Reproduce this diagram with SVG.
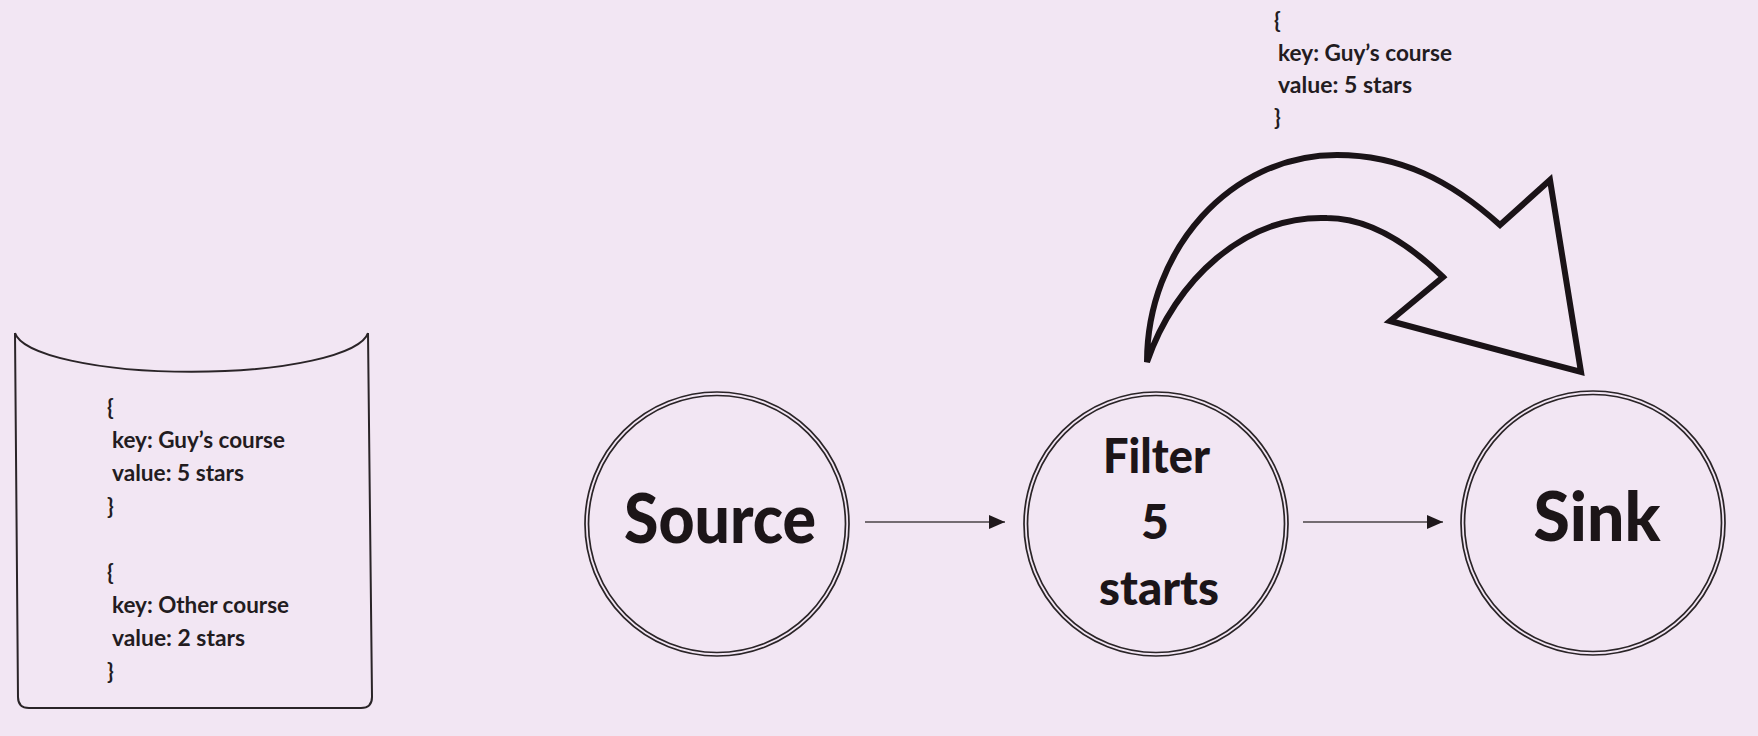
<svg xmlns="http://www.w3.org/2000/svg" width="1758" height="736" viewBox="0 0 1758 736">
  <defs>
    <style>
      .bg { fill: #f2e6f3; }
      .ring { fill: none; stroke: #2a2427; stroke-width: 1.7; }
      .big { font-family: Lato, "Open Sans", "Liberation Sans", sans-serif; font-weight: 900; fill: #1c1518; text-anchor: middle; }
      .rec { font-family: Lato, "Open Sans", "Liberation Sans", sans-serif; font-weight: 700; font-size: 22px; fill: #231c1f; }
      .conn { fill: none; stroke: #4a4346; stroke-width: 1.5; }
      .cyl { fill: none; stroke: #2a2427; stroke-width: 2; }
      .bigarrow { fill: none; stroke: #1a1317; stroke-width: 6; stroke-linejoin: miter; stroke-miterlimit: 4; }
    </style>
    <marker id="ah" markerWidth="16" markerHeight="14" refX="16" refY="7" orient="auto" markerUnits="userSpaceOnUse">
      <path d="M0,0 L16,7 L0,14 Z" fill="#1f181b"/>
    </marker>
  </defs>
  <rect class="bg" x="0" y="0" width="1758" height="736"/>

  <g id="store">
    <path class="cyl" d="M15,333 L18,697 Q18,708 29,708 L361,708 Q372,708 372,697 L368,333"/>
    <path class="cyl" d="M15,333 A177,42 0 0 0 368,333"/>
    <text class="rec" x="107" y="415">{</text>
    <text class="rec" x="112" y="448" textLength="173" lengthAdjust="spacingAndGlyphs">key: Guy’s course</text>
    <text class="rec" x="112" y="481" textLength="132" lengthAdjust="spacingAndGlyphs">value: 5 stars</text>
    <text class="rec" x="107" y="514">}</text>
    <text class="rec" x="107" y="580">{</text>
    <text class="rec" x="112" y="613" textLength="177" lengthAdjust="spacingAndGlyphs">key: Other course</text>
    <text class="rec" x="112" y="646" textLength="133" lengthAdjust="spacingAndGlyphs">value: 2 stars</text>
    <text class="rec" x="107" y="679">}</text>
  </g>

  <g id="source">
    <circle class="ring" cx="717" cy="524" r="132"/>
    <circle class="ring" cx="717" cy="524" r="128.5"/>
    <text class="big" x="720" y="543" font-size="68" textLength="192" lengthAdjust="spacingAndGlyphs">Source</text>
  </g>

  <g id="filter">
    <circle class="ring" cx="1156" cy="524" r="132"/>
    <circle class="ring" cx="1156" cy="524" r="128.5"/>
    <text class="big" x="1156.5" y="473" font-size="48" textLength="107" lengthAdjust="spacingAndGlyphs">Filter</text>
    <text class="big" x="1155" y="539" font-size="48">5</text>
    <text class="big" x="1159" y="605" font-size="48" textLength="120" lengthAdjust="spacingAndGlyphs">starts</text>
  </g>

  <g id="sink">
    <circle class="ring" cx="1593" cy="523" r="132"/>
    <circle class="ring" cx="1593" cy="523" r="128.5"/>
    <text class="big" x="1597" y="541" font-size="68" textLength="127" lengthAdjust="spacingAndGlyphs">Sink</text>
  </g>

  <g id="output-record">
    <text class="rec" x="1274" y="28">{</text>
    <text class="rec" x="1278" y="61" textLength="174" lengthAdjust="spacingAndGlyphs">key: Guy’s course</text>
    <text class="rec" x="1278" y="93" textLength="134" lengthAdjust="spacingAndGlyphs">value: 5 stars</text>
    <text class="rec" x="1274" y="125">}</text>
  </g>

  <g id="connectors">
    <line class="conn" x1="865" y1="522" x2="1005" y2="522" marker-end="url(#ah)"/>
    <line class="conn" x1="1303" y1="522" x2="1443" y2="522" marker-end="url(#ah)"/>
    <path class="bigarrow" d="M1147,362 C1147,250 1230,155 1337,155 C1400,155 1450,180 1500,225 L1550,180 L1581,372 L1390,321 L1443,277 C1410,245 1370,218 1327,218 C1245,215 1175,280 1147,362 Z"/>
  </g>
</svg>
